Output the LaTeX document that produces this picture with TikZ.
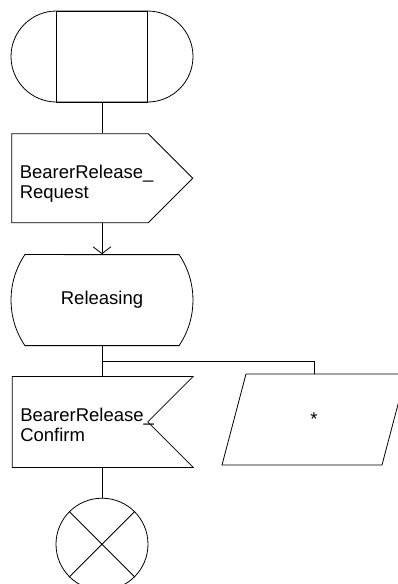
\documentclass[tikz,border=0pt]{standalone}
\usepackage{fontspec}
\setmainfont{Liberation Sans}
\usetikzlibrary{arrows.meta,positioning,shapes.geometric,shapes.misc,shapes.symbols,calc}

\begin{document}
\begin{tikzpicture}[
    x=1pt, y=1pt, line width=0.8pt,
    every node/.style={font=\fontsize{18.5}{20}\selectfont},
    startbox/.style={draw, rounded rectangle, minimum width=182pt, minimum height=91pt, inner sep=0pt},
    startbody/.style={draw, rectangle, minimum size=91pt, inner sep=0pt},
    inbox/.style={draw, signal, signal to=east, signal from=nothing, signal pointer angle=90, minimum width=181pt, minimum height=89pt, inner sep=0pt},
    outbox/.style={draw, signal, signal to=nothing, signal from=east, signal pointer angle=90, minimum width=181pt, minimum height=91pt, inner sep=0pt},
    statebox/.style={draw, rounded rectangle, rounded rectangle arc length=68, minimum width=182pt, minimum height=91pt, inner sep=0pt},
    stopnode/.style={draw, circle, minimum size=92pt, inner sep=0pt},
    lbl/.style={align=left, inner sep=0pt, anchor=north west},
    flow/.style={-{Straight Barb[length=7pt,width=18pt]}}
  ]
    \useasboundingbox (0,0) rectangle (398,-584);

    \node[startbox] (start) at (102,-56.5) {};
    \node[startbody] (body) at (start) {};
    \node[inbox, below=31pt of start, xshift=-22pt] (req) {};
    \node[lbl] (reqtext) at ([shift={(8,14)}]req.west) {BearerRelease\_\\Request};
    \node[statebox, below=31pt of start |- req.south] (state) {Releasing};
    \node[outbox, below=30pt of state, xshift=-22pt] (conf) {};
    \node[lbl] (conftext) at ([shift={(8,14.5)}]conf.west) {BearerRelease\_\\Confirm};
    \node[stopnode, below=30pt of state |- conf.south] (stop) {};

    % save symbol, drawn as a parallelogram round its text
    \node (save) at (314,-419.5) {*};
    \draw ([shift={(-92,-45.5)}]save.center) -- ++(24,91) -- ++(160,0) -- ++(-24,-91) -- cycle;
    \coordinate (savetop) at ([yshift=45.5]save.center);

    % connectors
    \draw (start.south) -- (start.south |- req.north);
    \draw[flow] (state.north |- req.south) -- (state.north);
    \draw (state.south) -- (state.south |- conf.north);
    \coordinate (fork) at ($(state.south)!0.5!(state.south |- conf.north)$);
    \draw (fork) -| (savetop);
    \draw (stop.north |- conf.south) -- (stop.north);
    \draw (stop.north west) -- (stop.south east)
          (stop.north east) -- (stop.south west);
  \end{tikzpicture}
\end{document}
